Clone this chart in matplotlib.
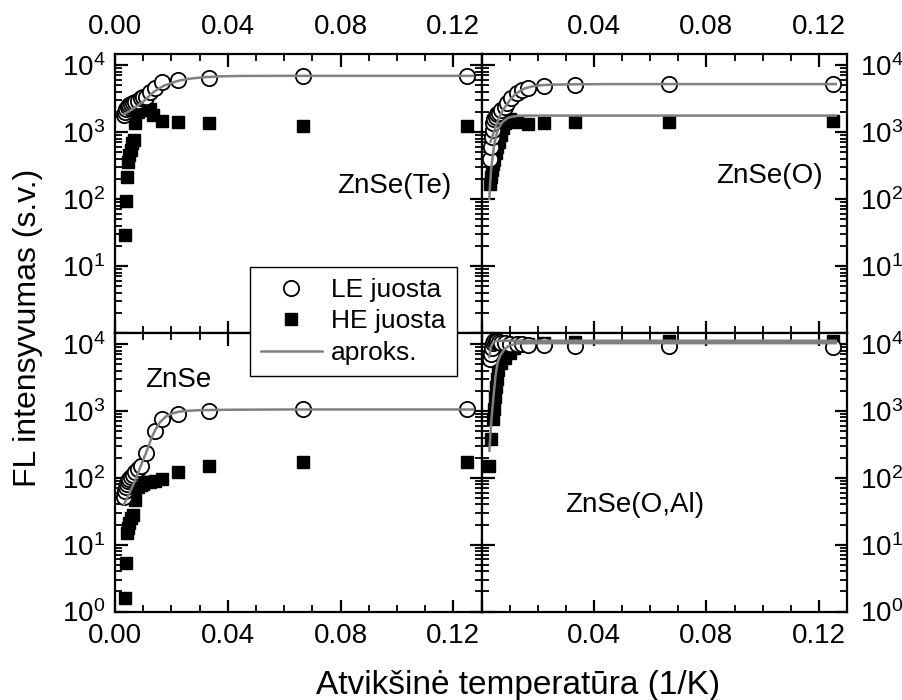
import matplotlib
matplotlib.use('Agg')
import matplotlib.pyplot as plt
from matplotlib.lines import Line2D
from matplotlib.ticker import LogLocator, MultipleLocator, NullFormatter

plt.rcParams['font.family'] = ['Liberation Sans', 'DejaVu Sans']
plt.rcParams['mathtext.fontset'] = 'custom'
plt.rcParams['mathtext.rm'] = 'Liberation Sans'
plt.rcParams['mathtext.it'] = 'Liberation Sans:italic'
plt.rcParams['mathtext.bf'] = 'Liberation Sans:bold'
plt.rcParams['mathtext.default'] = 'regular'

# ---------------- data ----------------
# ZnSe(Te)
te_le_x = [0.0033, 0.0036, 0.0040, 0.0045, 0.0050, 0.0056, 0.0063, 0.0071, 0.0083, 0.0091,
           0.0100, 0.0111, 0.0125, 0.0143, 0.0167, 0.0222, 0.0333, 0.0667, 0.1250]
te_le_y = [1780, 2000, 2240, 2400, 2520, 2650, 2700, 2830, 2950, 3170,
           3300, 3370, 4000, 4600, 5500, 5950, 6470, 6850, 6850]
te_he_x = [0.0035, 0.0039, 0.0041, 0.0045, 0.0050, 0.0057, 0.0061, 0.0066, 0.0071, 0.0083,
           0.0091, 0.0100, 0.0111, 0.0125, 0.0136, 0.0167, 0.0222, 0.0333, 0.0667, 0.1250]
te_he_y = [29, 94, 215, 363, 457, 537, 676, 762, 1350, 2000,
           2150, 2400, 2300, 2240, 1780, 1480, 1420, 1350, 1230, 1230]
te_fit_x = [0.0032, 0.0050, 0.0068, 0.0085, 0.0100, 0.0118, 0.0135, 0.0155, 0.0175, 0.0200,
            0.0230, 0.0270, 0.0320, 0.0380, 0.0450, 0.0600, 0.0900, 0.1270]
te_fit_y = [1840, 2050, 2300, 2550, 2850, 3350, 3900, 4450, 4950, 5400,
            5900, 6300, 6600, 6800, 6880, 6900, 6900, 6900]

# ZnSe(O)
o_le_x = [0.0030, 0.0033, 0.0036, 0.0040, 0.0042, 0.0045, 0.0050, 0.0056, 0.0063, 0.0071,
          0.0083, 0.0091, 0.0105, 0.0125, 0.0143, 0.0167, 0.0222, 0.0333, 0.0667, 0.1250]
o_le_y = [400, 600, 850, 1070, 1350, 1550, 1690, 1850, 1940, 2130,
          2390, 2680, 3170, 3800, 4300, 4600, 4900, 5000, 5150, 5300]
o_he_x = [0.0030, 0.0033, 0.0036, 0.0040, 0.0045, 0.0050, 0.0056, 0.0063, 0.0071, 0.0077,
          0.0083, 0.0100, 0.0125, 0.0167, 0.0222, 0.0333, 0.0667, 0.1250]
o_he_y = [170, 215, 270, 330, 380, 480, 600, 720, 900, 1140,
          1350, 1590, 1430, 1300, 1350, 1430, 1430, 1470]
o_fit_le_x = [0.0032, 0.0040, 0.0046, 0.0055, 0.0064, 0.0075, 0.0088, 0.0100, 0.0117, 0.0135,
              0.0153, 0.0180, 0.0212, 0.0250, 0.0320, 0.0450, 0.0700, 0.1260]
o_fit_le_y = [720, 900, 1070, 1350, 1690, 2100, 2510, 2950, 3550, 4050,
              4470, 4800, 5000, 5100, 5150, 5200, 5200, 5200]
o_fit_he_x = [0.0028, 0.0029, 0.0031, 0.0034, 0.0040, 0.0046, 0.0052, 0.0058, 0.0067, 0.0076,
              0.0093, 0.0110, 0.0130, 0.0170, 0.0300, 0.1260]
o_fit_he_y = [100, 130, 180, 270, 450, 680, 880, 1070, 1270, 1420,
              1620, 1700, 1750, 1760, 1760, 1760]

# ZnSe
z_le_x = [0.0033, 0.0036, 0.0038, 0.0042, 0.0045, 0.0050, 0.0056, 0.0063, 0.0071, 0.0083,
          0.0091, 0.0111, 0.0143, 0.0167, 0.0222, 0.0333, 0.0667, 0.1250]
z_le_y = [52, 63, 72, 80, 88, 95, 102, 110, 120, 135,
          152, 232, 500, 760, 910, 1000, 1050, 1050]
z_he_x = [0.0036, 0.0038, 0.0041, 0.0045, 0.0050, 0.0056, 0.0063, 0.0071, 0.0083, 0.0091,
          0.0100, 0.0111, 0.0125, 0.0143, 0.0167, 0.0222, 0.0333, 0.0667, 0.1250]
z_he_y = [1.58, 5.3, 15, 17.8, 21, 25, 28, 46, 73, 78,
          80, 85, 85, 88, 95, 120, 152, 170, 170]
z_fit_x = [0.0032, 0.0050, 0.0071, 0.0090, 0.0106, 0.0120, 0.0130, 0.0145, 0.0160, 0.0180,
           0.0201, 0.0225, 0.0250, 0.0300, 0.0400, 0.0600, 0.1270]
z_fit_y = [40, 58, 90, 145, 214, 305, 400, 540, 680, 820,
           910, 970, 1000, 1025, 1040, 1050, 1050]

# ZnSe(O,Al)
al_le_x = [0.0030, 0.0033, 0.0036, 0.0040, 0.0045, 0.0050, 0.0056, 0.0063, 0.0071, 0.0083,
           0.0100, 0.0125, 0.0143, 0.0167, 0.0222, 0.0333, 0.0667, 0.1250]
al_le_y = [6000, 7200, 8800, 10300, 11000, 11200, 11000, 10800, 10500, 10300,
           10000, 9900, 9900, 9800, 9650, 9400, 9300, 9100]
al_he_x = [0.0028, 0.0034, 0.0040, 0.0043, 0.0048, 0.0052, 0.0056, 0.0060, 0.0070, 0.0082,
           0.0100, 0.0117, 0.0141, 0.0167, 0.0222, 0.0333, 0.0667, 0.1250]
al_he_y = [150, 380, 760, 1070, 1620, 2300, 3050, 4070, 5130, 6100,
           7250, 8600, 9660, 10000, 10500, 10800, 11200, 11200]
al_fit_le_x = [0.0028, 0.0031, 0.0034, 0.0040, 0.0046, 0.0055, 0.0070, 0.0090, 0.0130, 0.0300, 0.1260]
al_fit_le_y = [6450, 8000, 9200, 10300, 10900, 11100, 11200, 11200, 11200, 11200, 11200]
al_fit_he_x = [0.0028, 0.0035, 0.0043, 0.0050, 0.0057, 0.0067, 0.0082, 0.0099, 0.0128, 0.0170, 0.0300, 0.1260]
al_fit_he_y = [255, 720, 1700, 3400, 5200, 6800, 8400, 9500, 10200, 10300, 10300, 10300]

x_ticks = [0.00, 0.04, 0.08, 0.12]
x_labels_full = ['0.00', '0.04', '0.08', '0.12']
x_labels_right = ['', '0.04', '0.08', '0.12']
y_ticks = [1, 10, 100, 1000, 10000]
y_labels_full = [r'$10^{0}$', r'$10^{1}$', r'$10^{2}$', r'$10^{3}$', r'$10^{4}$']
y_labels_top = ['', r'$10^{1}$', r'$10^{2}$', r'$10^{3}$', r'$10^{4}$']

panel_names = ['ZnSe(Te)', 'ZnSe(O)', 'ZnSe', 'ZnSe(O,Al)']
legend_labels = ['LE juosta', 'HE juosta', 'aproks.']
xlabel = 'Atvikšinė temperatūra (1/K)'
ylabel = 'FL intensyvumas (s.v.)'

# ---------------- figure ----------------
W, H = 902, 700
fig = plt.figure(figsize=(W / 100, H / 100), dpi=100)
L, M, R = 115 / W, 481.5 / W, 847 / W
T, C, B = 1 - 54 / H, 1 - 333 / H, 1 - 611.5 / H

ax_tl = fig.add_axes([L, C, M - L, T - C])
ax_tr = fig.add_axes([M, C, R - M, T - C])
ax_bl = fig.add_axes([L, B, M - L, C - B])
ax_br = fig.add_axes([M, B, R - M, C - B])

FIT = '#808080'
FS = 20


def style(ax, top, right):
    ax.set_yscale('log')
    ax.set_xlim(0, 0.13)
    ax.set_xticks(x_ticks)
    ax.set_xticklabels(x_labels_right if right else x_labels_full)
    ax.xaxis.set_minor_locator(MultipleLocator(0.01))
    ax.set_yticks(y_ticks)
    ax.set_yticklabels(y_labels_top if top else y_labels_full)
    ax.yaxis.set_minor_locator(LogLocator(base=10, subs=range(2, 10), numticks=20))
    ax.yaxis.set_minor_formatter(NullFormatter())
    ax.set_ylim(1, 10 ** 4.165)
    for s in ax.spines.values():
        s.set_linewidth(1.6)
    ax.tick_params(which='both', direction='in', top=True, bottom=True, left=True, right=True,
                   labelsize=FS, colors='black')
    ax.tick_params(which='major', length=9, width=1.6)
    ax.tick_params(which='minor', length=5, width=1.3)
    ax.tick_params(axis='x', labeltop=top, labelbottom=not top, pad=10 if top else 8)
    ax.tick_params(axis='y', labelleft=not right, labelright=right, pad=7 if not right else 9)


def draw(ax, le_x, le_y, he_x, he_y, fits):
    ax.plot(he_x, he_y, linestyle='none', marker='s', markersize=8,
            color='black', zorder=3)
    ax.plot(le_x, le_y, linestyle='none', marker='o', markersize=11,
            markerfacecolor='white', markeredgecolor='black', markeredgewidth=1.3, zorder=4)
    for fx, fy in fits:
        ax.plot(fx, fy, color=FIT, linewidth=1.8, zorder=5)


style(ax_tl, True, False)
style(ax_tr, True, True)
style(ax_bl, False, False)
style(ax_br, False, True)

draw(ax_tl, te_le_x, te_le_y, te_he_x, te_he_y, [(te_fit_x, te_fit_y)])
draw(ax_tr, o_le_x, o_le_y, o_he_x, o_he_y, [(o_fit_le_x, o_fit_le_y), (o_fit_he_x, o_fit_he_y)])
draw(ax_bl, z_le_x, z_le_y, z_he_x, z_he_y, [(z_fit_x, z_fit_y)])
draw(ax_br, al_le_x, al_le_y, al_he_x, al_he_y, [(al_fit_le_x, al_fit_le_y), (al_fit_he_x, al_fit_he_y)])

ax_tl.text(0.761, 0.526, panel_names[0], transform=ax_tl.transAxes, fontsize=FS, ha='center', va='center')
ax_tr.text(0.789, 0.562, panel_names[1], transform=ax_tr.transAxes, fontsize=FS, ha='center', va='center')
ax_bl.text(0.173, 0.831, panel_names[2], transform=ax_bl.transAxes, fontsize=FS, ha='center', va='center')
ax_br.text(0.419, 0.382, panel_names[3], transform=ax_br.transAxes, fontsize=FS, ha='center', va='center')

fig.text(518 / W, 0.009, xlabel, fontsize=24, ha='center', va='baseline')
fig.text(0.031, 1 - 328 / H, ylabel, fontsize=23, ha='center', va='center', rotation=90)

handles = [
    Line2D([], [], linestyle='none', marker='o', markersize=11, markerfacecolor='white',
           markeredgecolor='black', markeredgewidth=1.3),
    Line2D([], [], linestyle='none', marker='s', markersize=8, color='black'),
    Line2D([], [], color=FIT, linewidth=1.8),
]
leg = fig.legend(handles, legend_labels, loc='upper left',
                 bbox_to_anchor=(250 / W, 1 - 267 / H), bbox_transform=fig.transFigure,
                 borderaxespad=0, frameon=True, fancybox=False, edgecolor='black',
                 framealpha=1, fontsize=19, handlelength=2.3, handletextpad=0.35,
                 labelspacing=0.28, borderpad=0.42, numpoints=1)
leg.get_frame().set_linewidth(1.0)
leg.set_zorder(10)

fig.savefig('out.png', dpi=100)
